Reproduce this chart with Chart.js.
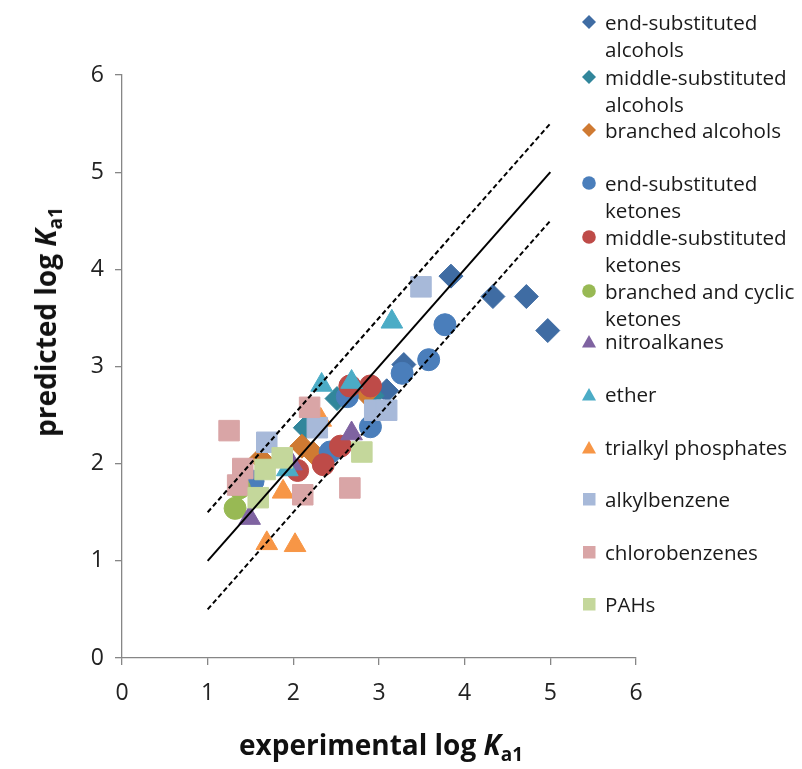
<!DOCTYPE html>
<html>
<head>
<meta charset="utf-8">
<script src="https://cdn.jsdelivr.net/npm/chart.js@4.4.0/dist/chart.umd.min.js"></script>
<style>
  body { margin: 0; background: #fff; }
  #wrap { position: relative; width: 802px; height: 769px; overflow: hidden; }
  canvas { position: absolute; left: 0; top: 0; }
  .axis-title { position: absolute; font-family: "Open Sans", sans-serif; font-weight: bold; font-size: 28px; color: #111; white-space: nowrap; }
  .axis-title sub { font-size: 19px; vertical-align: -6px; }
  #xtitle { left: 381px; top: 725px; transform: translateX(-50%); }
  #ytitle { left: 47px; top: 322px; transform: translate(-50%, -50%) rotate(-90deg); }
  #legend { position: absolute; left: 0; top: 0; font-family: "Open Sans", sans-serif; font-size: 20.6px; color: #1a1a1a; }
  .item { position: absolute; left: 605px; line-height: 27px; white-space: nowrap; }
  .item svg { position: absolute; left: -23px; top: 6px; }
</style>
</head>
<body>
<div id="wrap">
  <canvas id="chart" width="802" height="769"></canvas>
  <div class="axis-title" id="xtitle">experimental log <i>K</i><sub>a1</sub></div>
  <div class="axis-title" id="ytitle">predicted log <i>K</i><sub>a1</sub></div>
  <div id="legend"></div>
</div>
<script>
'use strict';

const tickValues = [0, 1, 2, 3, 4, 5, 6];

// series: experimental (x) / predicted (y) log Ka1
const endAlcoholsX = [3.84, 4.33, 4.72, 4.97, 3.29, 3.09];
const endAlcoholsY = [3.93, 3.72, 3.72, 3.37, 3.02, 2.75];
const midAlcoholsX = [2.51, 2.14, 2.92];
const midAlcoholsY = [2.67, 2.37, 2.70];
const branchedAlcoholsX = [2.10, 2.24, 2.85, 1.62];
const branchedAlcoholsY = [2.18, 2.10, 2.72, 2.05];
const endKetonesX = [3.77, 3.58, 3.27, 2.90, 2.43, 1.53, 2.63];
const endKetonesY = [3.43, 3.07, 2.93, 2.38, 2.12, 1.82, 2.69];
const midKetonesX = [2.05, 2.35, 2.55, 2.66, 2.90];
const midKetonesY = [1.93, 1.99, 2.18, 2.80, 2.80];
const branchedKetonesX = [1.32, 1.37];
const branchedKetonesY = [1.54, 1.75];
const nitroX = [1.49, 2.68, 1.98];
const nitroY = [1.44, 2.31, 2.00];
const etherX = [3.15, 2.33, 2.68, 1.93];
const etherY = [3.46, 2.81, 2.84, 1.94];
const phosphatesX = [1.69, 2.02, 1.88, 2.32];
const phosphatesY = [1.18, 1.16, 1.71, 2.45];
const alkylbenzeneX = [3.49, 2.95, 3.09, 2.28, 1.69];
const alkylbenzeneY = [3.82, 2.55, 2.55, 2.37, 2.22];
const chlorobenzenesX = [1.25, 2.19, 1.41, 1.35, 2.11, 2.66];
const chlorobenzenesY = [2.34, 2.58, 1.95, 1.78, 1.68, 1.75];
const pahsX = [1.87, 1.67, 1.59, 2.80];
const pahsY = [2.06, 1.94, 1.65, 2.12];

// 1:1 line and +/-0.5 bands
const lineX = [1, 5];
const lineY = [1, 5];
const upperY = [1.5, 5.5];
const lowerY = [0.5, 4.5];

const series = [
    { label: ['end-substituted', 'alcohols'], x: endAlcoholsX, y: endAlcoholsY, color: '#3F6CA3', style: 'rectRot', r: 12, top: 9 },
    { label: ['middle-substituted', 'alcohols'], x: midAlcoholsX, y: midAlcoholsY, color: '#31869B', style: 'rectRot', r: 12, top: 64 },
    { label: ['branched alcohols'], x: branchedAlcoholsX, y: branchedAlcoholsY, color: '#CF7A32', style: 'rectRot', r: 12, top: 117 },
    { label: ['end-substituted', 'ketones'], x: endKetonesX, y: endKetonesY, color: '#4A7EBB', style: 'circle', r: 11, top: 170 },
    { label: ['middle-substituted', 'ketones'], x: midKetonesX, y: midKetonesY, color: '#BE4B48', style: 'circle', r: 11, top: 224 },
    { label: ['branched and cyclic', 'ketones'], x: branchedKetonesX, y: branchedKetonesY, color: '#98B954', style: 'circle', r: 11, top: 278 },
    { label: ['nitroalkanes'], x: nitroX, y: nitroY, color: '#7F63A1', style: 'triangle', r: 12.5, top: 328 },
    { label: ['ether'], x: etherX, y: etherY, color: '#4BACC6', style: 'triangle', r: 12.5, top: 381 },
    { label: ['trialkyl phosphates'], x: phosphatesX, y: phosphatesY, color: '#F79646', style: 'triangle', r: 12.5, top: 434 },
    { label: ['alkylbenzene'], x: alkylbenzeneX, y: alkylbenzeneY, color: '#A7B9D9', style: 'rect', r: 14.5, top: 486 },
    { label: ['chlorobenzenes'], x: chlorobenzenesX, y: chlorobenzenesY, color: '#D9A5A6', style: 'rect', r: 14.5, top: 539 },
    { label: ['PAHs'], x: pahsX, y: pahsY, color: '#C4D79B', style: 'rect', r: 14.5, top: 591 },
];

function toPoints(xs, ys) {
    return xs.map((x, i) => ({ x, y: ys[i] }));
}

const datasets = series.map((s, i) => ({
    type: 'scatter',
    label: s.label.join(' '),
    data: toPoints(s.x, s.y),
    pointStyle: s.style,
    pointRadius: s.r,
    backgroundColor: s.color,
    borderColor: s.color,
    borderWidth: 1,
    order: series.length - i,   // later series on top, like Excel
}));

datasets.push(
    { type: 'line', data: toPoints(lineX, lineY), borderColor: '#000', borderWidth: 2, pointRadius: 0, order: -1 },
    { type: 'line', data: toPoints(lineX, upperY), borderColor: '#000', borderWidth: 2, borderDash: [5, 3], pointRadius: 0, order: -1 },
    { type: 'line', data: toPoints(lineX, lowerY), borderColor: '#000', borderWidth: 2, borderDash: [5, 3], pointRadius: 0, order: -1 }
);

const axisGray = '#868686';
const tickFont = { family: '"Open Sans", sans-serif', size: 23 };

function axis(fixedSize, horizontal, padding) {
    return {
        type: 'linear',
        min: 0,
        max: 6,
        afterBuildTicks: scale => { scale.ticks = tickValues.map(v => ({ value: v })); },
        afterFit: scale => {
            if (horizontal) scale.height = fixedSize; else scale.width = fixedSize;
        },
        border: { color: axisGray, width: 1.3 },
        grid: { drawOnChartArea: false, drawTicks: true, tickLength: 7, color: axisGray, lineWidth: 1.3 },
        ticks: { color: '#222', font: tickFont, padding, maxRotation: 0 },
    };
}

new Chart(document.getElementById('chart'), {
    data: { datasets },
    options: {
        responsive: false,
        animation: false,
        layout: { padding: { left: 0, top: 75, right: 166, bottom: 0 } },
        plugins: { legend: { display: false }, tooltip: { enabled: false } },
        scales: {
            x: axis(111, true, 15),
            y: axis(122, false, 11),
        }
    }
});

// legend, drawn as HTML so the labels can wrap like the original
function markerSvg(s) {
    const c = s.color;
    let shape;
    if (s.style === 'rectRot') shape = `<polygon points="7,0 14,7 7,14 0,7" fill="${c}"/>`;
    else if (s.style === 'circle') shape = `<circle cx="7" cy="7" r="6.8" fill="${c}"/>`;
    else if (s.style === 'triangle') shape = `<polygon points="7,1 14,13.5 0,13.5" fill="${c}"/>`;
    else shape = `<rect x="1" y="1" width="12.5" height="12.5" fill="${c}"/>`;
    return `<svg width="14" height="14" viewBox="0 0 14 14">${shape}</svg>`;
}

const legend = document.getElementById('legend');
series.forEach(s => {
    const div = document.createElement('div');
    div.className = 'item';
    div.style.top = s.top + 'px';
    div.innerHTML = markerSvg(s) + s.label.join('<br>');
    legend.appendChild(div);
});
</script>
</body>
</html>
